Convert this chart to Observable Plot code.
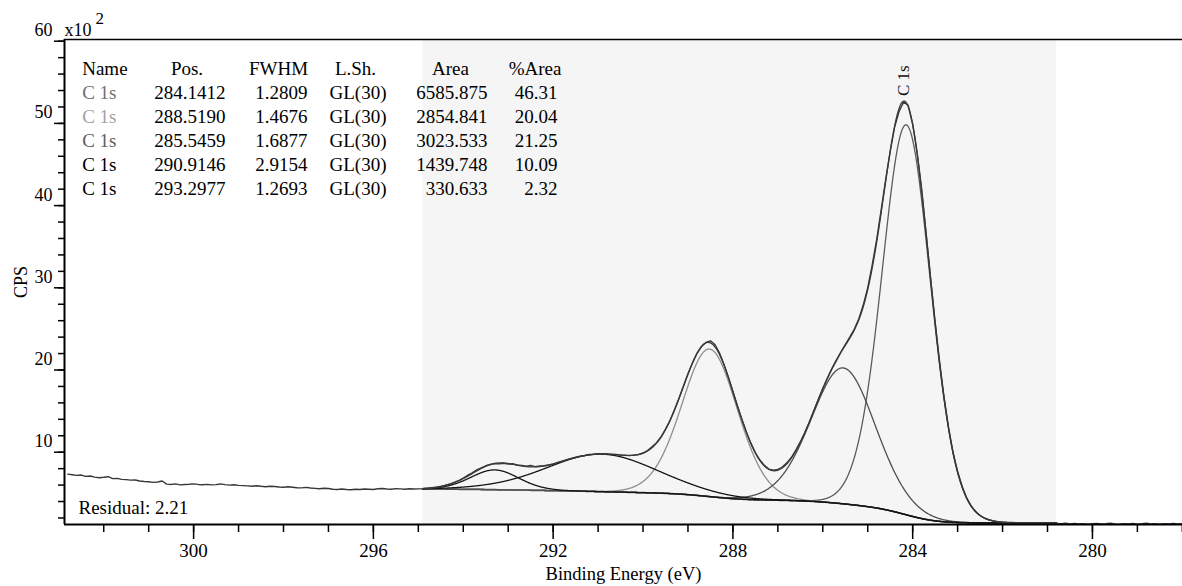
<!DOCTYPE html>
<html>
<head>
<meta charset="utf-8">
<script src="https://cdn.jsdelivr.net/npm/d3@7"></script>
<script src="https://cdn.jsdelivr.net/npm/@observablehq/plot@0.6"></script>
<style>
  html, body { margin: 0; padding: 0; background: #fff; }
  #chart svg { display: block; }
</style>
</head>
<body>
<div id="chart"></div>
<script>
// ---- Peak-fit table: C 1s components (GL(30) line shapes) ----
const peakNames = ["C 1s", "C 1s", "C 1s", "C 1s", "C 1s"];
const peakPos = [284.1412, 288.5190, 285.5459, 290.9146, 293.2977];
const peakFWHM = [1.2809, 1.4676, 1.6877, 2.9154, 1.2693];
const peakLineShape = ["GL(30)", "GL(30)", "GL(30)", "GL(30)", "GL(30)"];
const peakLorentzPct = [30, 30, 30, 30, 30];
const peakArea = [6585.875, 2854.841, 3023.533, 1439.748, 330.633];
const peakPctArea = [46.31, 20.04, 21.25, 10.09, 2.32];
const residualValue = 2.21;
const peakLabel = "C 1s";

// ---- Fit region (binding energy, eV) and Shirley background end points (CPS x10^2) ----
const regionHigh = 294.9;
const regionLow = 280.8;
const bgAtHigh = 5.5;
const bgAtLow = 1.4;

// ---- Measured spectrum, 0.1 eV steps from 302.8 eV down to 278.0 eV (CPS x10^2) ----
const rawStartBE = 302.8;
const rawStepBE = 0.1;
const rawCPS = [
  // 302.8 - 295.0
  7.33, 7.26, 7.18, 7.22, 7.06, 7.10, 6.97, 6.90, 6.95, 7.02,
  6.78, 6.82, 6.70, 6.66, 6.60, 6.62, 6.50, 6.44, 6.40, 6.33,
  6.38, 6.50, 6.12, 6.08, 6.14, 6.03, 6.07, 6.10, 6.15, 6.08,
  6.04, 6.09, 6.02, 6.06, 6.14, 6.05, 6.00, 6.04, 5.97, 5.93,
  5.90, 5.86, 5.92, 5.85, 5.80, 5.86, 5.82, 5.76, 5.73, 5.79,
  5.74, 5.68, 5.66, 5.72, 5.65, 5.60, 5.55, 5.62, 5.58, 5.50,
  5.47, 5.52, 5.46, 5.43, 5.50, 5.47, 5.53, 5.50, 5.46, 5.55,
  5.58, 5.52, 5.50, 5.57, 5.54, 5.50, 5.55, 5.52, 5.54,
  // 294.9 - 290.0
  5.55, 5.60, 5.62, 5.72, 5.80, 5.96, 6.10, 6.32, 6.55, 6.85,
  7.20, 7.50, 7.85, 8.10, 8.35, 8.50, 8.62, 8.58, 8.66, 8.55,
  8.60, 8.44, 8.40, 8.30, 8.38, 8.25, 8.33, 8.36, 8.45, 8.55,
  8.75, 8.92, 9.10, 9.25, 9.38, 9.52, 9.60, 9.72, 9.75, 9.82,
  9.78, 9.80, 9.72, 9.74, 9.64, 9.62, 9.58, 9.65, 9.72, 9.90,
  // 289.9 - 285.0
  10.20, 10.65, 11.15, 11.85, 12.80, 13.85, 15.15, 16.55, 18.05, 19.55,
  20.85, 22.00, 22.85, 23.35, 23.55, 23.10, 22.10, 20.70, 19.10, 17.35,
  15.60, 14.00, 12.45, 11.10, 9.95, 9.05, 8.40, 7.95, 7.80, 7.90,
  8.20, 8.70, 9.35, 10.25, 11.25, 12.40, 13.65, 15.05, 16.40, 17.75,
  18.95, 20.10, 21.10, 22.15, 23.10, 24.00, 24.95, 26.20, 27.90, 30.00,
  // 284.9 - 280.0
  32.80, 35.90, 39.50, 43.20, 46.60, 49.60, 51.50, 52.60, 52.20, 49.90,
  46.40, 42.00, 36.60, 31.10, 25.80, 20.90, 16.60, 12.95, 9.90, 7.65,
  5.85, 4.45, 3.45, 2.78, 2.30, 1.98, 1.78, 1.64, 1.55, 1.50,
  1.46, 1.44, 1.42, 1.40, 1.43, 1.38, 1.41, 1.37, 1.40, 1.36,
  1.38, 1.34, 1.30, 1.36, 1.28, 1.33, 1.27, 1.31, 1.25, 1.30,
  // 279.9 - 278.0
  1.34, 1.26, 1.29, 1.35, 1.27, 1.24, 1.30, 1.28, 1.33, 1.25,
  1.29, 1.36, 1.27, 1.30, 1.24, 1.31, 1.27, 1.33, 1.26, 1.29
];

// ---- Axis ticks ----
const xMajorTicks = [300, 296, 292, 288, 284, 280];
const xMinorTicks = d3.range(278, 303, 1);
const yMajorTicks = [10, 20, 30, 40, 50, 60];
const yMinorTicks = d3.range(2, 61, 2);

// ---- Styles ----
const FONT = "Liberation Serif, Times New Roman, serif";
const componentStroke = ["#5c5c5c", "#8e8e8e", "#4f4f4f", "#141414", "#141414"];
const nameFill = ["#707070", "#a2a2a2", "#5e5e5e", "#000000", "#000000"];

// ---- GL(m) product line shape; FWHM is the true full width ----
function glShape(u, m) {
  return Math.exp(-4 * Math.LN2 * (1 - m) * u * u) / (1 + 4 * m * u * u);
}
function halfWidthUnits(m) {
  let lo = 0, hi = 2;
  for (let i = 0; i < 60; i++) {
    const mid = (lo + hi) / 2;
    if (glShape(mid, m) > 0.5) lo = mid; else hi = mid;
  }
  return (lo + hi) / 2;
}
function unitIntegral(m) {
  let s = 0; const h = 0.0005;
  for (let u = -12; u <= 12; u += h) s += glShape(u, m) * h;
  return s;
}
const peaks = peakPos.map((pos, k) => {
  const m = peakLorentzPct[k] / 100;
  const width = peakFWHM[k] / (2 * halfWidthUnits(m));
  const height = peakArea[k] / (width * unitIntegral(m)) / 100; // CPS -> CPS x10^2
  return {pos, m, width, height};
});

// Energy grid across the fit region (ascending)
const step = 0.01;
const nGrid = Math.round((regionHigh - regionLow) / step) + 1;
const grid = d3.range(nGrid).map(i => regionLow + i * step);
const comps = peaks.map(p => grid.map(E => p.height * glShape((E - p.pos) / p.width, p.m)));
const total = grid.map((_, j) => d3.sum(comps, c => c[j]));

// Shirley background: rises with the integrated peak area from the low-BE end
const cumArea = [];
let acc = 0;
for (let j = 0; j < nGrid; j++) { acc += total[j] * step; cumArea.push(acc); }
const bg = cumArea.map(a => bgAtLow + (bgAtHigh - bgAtLow) * a / acc);

const bgLine = grid.map((E, j) => ({E, v: bg[j]}));
const compLines = comps.map(c => grid.map((E, j) => ({E, v: bg[j] + c[j]})));
const envelope = grid.map((E, j) => ({E, v: bg[j] + total[j]}));
const envMax = d3.greatest(envelope, d => d.v);
const raw = rawCPS.map((v, i) => ({E: rawStartBE - i * rawStepBE, v}));

// ---- Layout ----
const W = 1182, H = 586;
const mL = 64, mR = 0, mT = 39, mB = 62;
const yLo = 1.205, yHi = 60.207;

function cell(text, dx, dy, anchor, fill = "#000", size = 19) {
  return Plot.text([text], {
    text: d => d, frameAnchor: "top-left", dx, dy,
    textAnchor: anchor, lineAnchor: "bottom", fill, fontSize: size
  });
}

// Table: header row then one row per component
const tableMarks = [];
const rowBase = 35.5, rowGap = 24;
tableMarks.push(cell("Name", 17.7, rowBase, "start"));
tableMarks.push(cell("Pos.", 122.5, rowBase, "middle"));
tableMarks.push(cell("FWHM", 214, rowBase, "middle"));
tableMarks.push(cell("L.Sh.", 291, rowBase, "middle"));
tableMarks.push(cell("Area", 386, rowBase, "middle"));
tableMarks.push(cell("%Area", 470.5, rowBase, "middle"));
peakNames.forEach((name, i) => {
  const dy = rowBase + rowGap * (i + 1);
  tableMarks.push(cell(name, 17.7, dy, "start", nameFill[i]));
  tableMarks.push(cell(peakPos[i].toFixed(4), 161, dy, "end"));
  tableMarks.push(cell(peakFWHM[i].toFixed(4), 243, dy, "end"));
  tableMarks.push(cell(peakLineShape[i], 293.5, dy, "middle"));
  tableMarks.push(cell(peakArea[i].toFixed(3), 423, dy, "end"));
  tableMarks.push(cell(peakPctArea[i].toFixed(2), 493, dy, "end"));
});

const chart = Plot.plot({
  width: W, height: H,
  marginLeft: mL, marginRight: mR, marginTop: mT, marginBottom: mB,
  style: {fontFamily: FONT, fontSize: "19px", background: "#fff", color: "#000"},
  x: {domain: [302.873, 277.996], label: null},
  y: {domain: [yLo, yHi], label: null},
  marks: [
    // fit region shading
    Plot.rect([{a: regionHigh, b: regionLow}], {x1: "a", x2: "b", y1: yLo, y2: yHi, fill: "#f5f5f5"}),
    // table
    ...tableMarks,
    // background, components, envelope, data
    Plot.line(bgLine, {x: "E", y: "v", stroke: "#545454", strokeWidth: 1.7}),
    ...compLines.map((L, k) => Plot.line(L, {x: "E", y: "v", stroke: componentStroke[k], strokeWidth: 1.3})),
    Plot.line(envelope, {x: "E", y: "v", stroke: "#3a3a3a", strokeWidth: 1.3}),
    Plot.line(raw, {x: "E", y: "v", stroke: "#383838", strokeWidth: 1.4}),
    // peak label
    Plot.text([envMax], {x: () => peakPos[0], y: "v", text: () => peakLabel, rotate: -90,
      textAnchor: "start", dx: -3, dy: -5, fontSize: 17, fill: "#111"}),
    // axes
    Plot.axisX(xMinorTicks, {tickSize: 8, tickFormat: () => "", strokeWidth: 1.5, label: null}),
    Plot.axisX(xMajorTicks, {tickSize: 15, tickPadding: 4, strokeWidth: 1.5, fontSize: 19, tickFormat: d => String(d), label: null}),
    Plot.axisY(yMinorTicks, {tickSize: 6, tickFormat: () => "", strokeWidth: 1.5, label: null}),
    Plot.axisY(yMajorTicks, {tickSize: 10, tickFormat: () => "", strokeWidth: 1.5, label: null}),
    Plot.text(yMajorTicks, {frameAnchor: "left", y: d => d, text: d => String(d),
      textAnchor: "end", lineAnchor: "bottom", dx: -12, dy: -5, fontSize: 18}),
    Plot.ruleY([yLo], {stroke: "#000", strokeWidth: 2}),
    Plot.ruleY([yHi], {stroke: "#000", strokeWidth: 1.5}),
    Plot.ruleX([302.873], {stroke: "#000", strokeWidth: 2}),
    // axis titles and annotations
    Plot.text(["x10"], {text: d => d, frameAnchor: "top-left", dx: 0, dy: -4, textAnchor: "start", lineAnchor: "bottom", fontSize: 18}),
    Plot.text(["2"], {text: d => d, frameAnchor: "top-left", dx: 31, dy: -16, textAnchor: "start", lineAnchor: "bottom", fontSize: 17}),
    Plot.text(["CPS"], {text: d => d, frameAnchor: "left", dx: -43, rotate: -90, textAnchor: "middle", fontSize: 18}),
    Plot.text(["Binding Energy (eV)"], {text: d => d, frameAnchor: "bottom", dy: 55, lineAnchor: "bottom", fontSize: 18.5}),
    Plot.text([`Residual: ${residualValue.toFixed(2)}`], {text: d => d, frameAnchor: "bottom-left", dx: 14, dy: -11, textAnchor: "start", lineAnchor: "bottom", fontSize: 19})
  ]
});
document.getElementById("chart").appendChild(chart);
</script>
</body>
</html>
